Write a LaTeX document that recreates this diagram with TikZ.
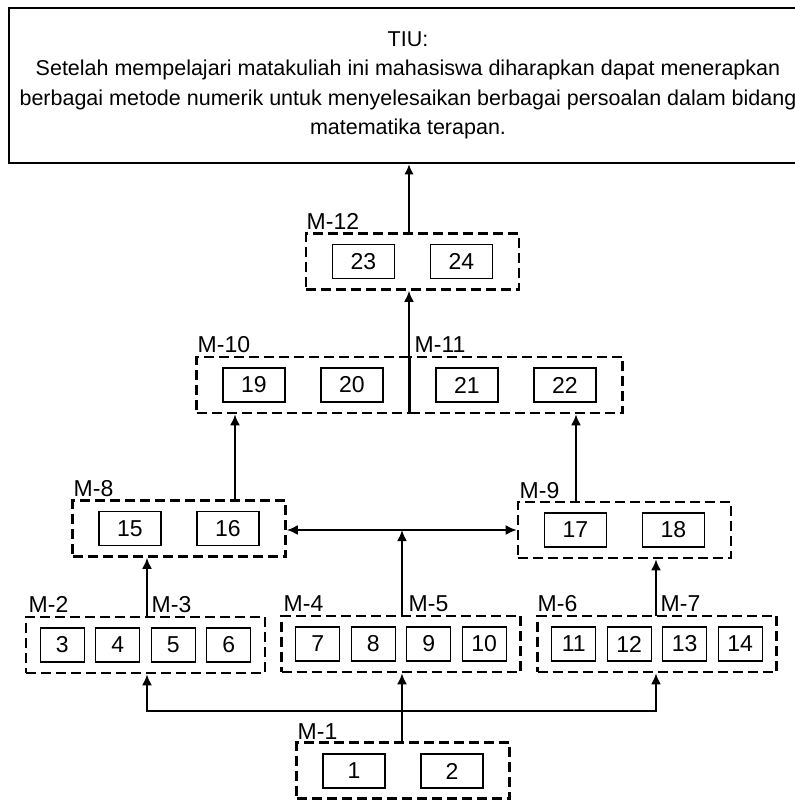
\documentclass[tikz,border=0pt]{standalone}
\usepackage{fontspec}
\setmainfont{Liberation Sans}
\usetikzlibrary{arrows.meta}

\begin{document}
\begin{tikzpicture}[x=.5pt,y=-.5pt,line width=.7pt,
        font=\fontsize{11.5pt}{14.75pt}\selectfont,
        numbox/.style={draw,line width=.7pt,minimum height=17pt,inner sep=0pt},
        wide/.style={numbox,minimum width=31pt},
        narrow/.style={numbox,minimum width=22pt},
        group/.style={draw,line width=1.3pt,dash pattern=on 5pt off 2.5pt,minimum height=28pt,inner sep=0pt},
        pair/.style={group,minimum width=106.5pt},
        quad/.style={group,minimum width=119.5pt},
        lbl/.style={anchor=south west,inner sep=0pt},
        arr/.style={-{Latex[length=5.5pt,width=5pt]},line width=1pt}]
        \useasboundingbox (0,0) rectangle (795,800);
        \clip (0,0) rectangle (795,800);

        \node[draw,line width=1.3pt,minimum width=399pt,minimum height=77.5pt,align=center,
            font=\fontsize{10.75pt}{14.75pt}\selectfont] (tiu) at (408,85.5)
            {TIU:\\Setelah mempelajari matakuliah ini mahasiswa diharapkan dapat menerapkan\\berbagai metode numerik untuk menyelesaikan berbagai persoalan dalam bidang\\matematika terapan.};

        \node[pair] (m12) at (412.5,261.5) {};
        \node[lbl] (l12) at (306,230) {M-12};
        \node[wide] (b23) at (363.5,261.5) {23};
        \node[wide] (b24) at (461.5,261.5) {24};

        \node[pair] (m10) at (303,385) {};
        \node[lbl] (l10) at (197,353) {M-10};
        \node[wide] (b19) at (254,385) {19};
        \node[wide] (b20) at (352,385) {20};

        \node[pair] (m11) at (516,385) {};
        \node[lbl] (l11) at (414,353) {M-11};
        \node[wide] (b21) at (467,385) {21};
        \node[wide] (b22) at (565,385) {22};

        \node[pair] (m8) at (179,528.5) {};
        \node[lbl] (l8) at (73,497) {M-8};
        \node[wide] (b15) at (130,528.5) {15};
        \node[wide] (b16) at (228,528.5) {16};

        \node[pair] (m9) at (624.5,530) {};
        \node[lbl] (l9) at (519,499) {M-9};
        \node[wide] (b17) at (575.5,530) {17};
        \node[wide] (b18) at (673.5,530) {18};

        \node[quad] (m23) at (145.5,645) {};
        \node[lbl] (l2) at (28,613) {M-2};
        \node[lbl] (l3) at (151,613) {M-3};
        \node[narrow] (b3) at (62.25,645) {3};
        \node[narrow] (b4) at (117.75,645) {4};
        \node[narrow] (b5) at (173.25,645) {5};
        \node[narrow] (b6) at (228.75,645) {6};

        \node[quad] (m45) at (401,644) {};
        \node[lbl] (l4) at (283,612) {M-4};
        \node[lbl] (l5) at (408,612) {M-5};
        \node[narrow] (b7) at (317.75,644) {7};
        \node[narrow] (b8) at (373.25,644) {8};
        \node[narrow] (b9) at (428.75,644) {9};
        \node[narrow] (b10) at (484.25,644) {10};

        \node[quad] (m67) at (657,644) {};
        \node[lbl] (l6) at (537,612) {M-6};
        \node[lbl] (l7) at (660,612) {M-7};
        \node[narrow] (b11) at (573.75,644) {11};
        \node[narrow] (b12) at (629.25,644) {12};
        \node[narrow] (b13) at (684.75,644) {13};
        \node[narrow] (b14) at (740.25,644) {14};

        \node[pair] (m1) at (403,770.5) {};
        \node[lbl] (l1) at (297,740) {M-1};
        \node[wide] (b1) at (354,771) {1};
        \node[wide] (b2) at (452,771) {2};

        \coordinate (c1011) at (409,413);
        \coordinate (c8) at (235,500);
        \coordinate (c9) at (576,502);
        \coordinate (c23) at (147,617);
        \coordinate (c45) at (402,616);
        \coordinate (c67) at (656,616);
        \coordinate (h) at (402,711);

        \draw[-{Latex[length=5pt,width=4.5pt]},line width=.6pt] (m12.north -| c1011) -- (c1011 |- tiu.south);
        \draw[arr] (c1011) -- (c1011 |- m12.south);
        \draw[arr] (c8) -- (c8 |- m10.south);
        \draw[arr] (c9) -- (c9 |- m11.south);
        \draw[{Latex[length=5.5pt,width=5pt]}-{Latex[length=5.5pt,width=5pt]},line width=1pt] (m8.east |- m9.west) -- (m9.west);
        \draw[arr] (c45) -- (c45 |- m9.west);
        \draw[arr] (c23) -- (c23 |- m8.south);
        \draw[arr] (c67) -- (c67 |- m9.south);
        \draw[arr] (m1.north -| h) -- (h |- m45.south);
        \draw[arr] (h) -| (c23 |- m23.south);
        \draw[arr] (h) -| (c67 |- m67.south);
      \end{tikzpicture}
\end{document}
